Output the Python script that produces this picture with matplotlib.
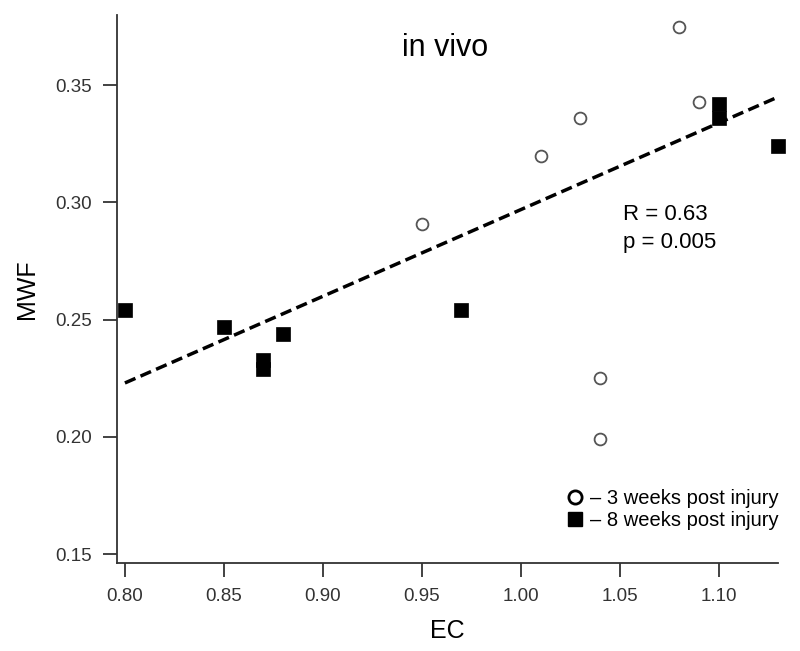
import matplotlib
matplotlib.use("Agg")
import matplotlib.pyplot as plt
from matplotlib.lines import Line2D

plt.rcParams['font.family'] = ['Liberation Sans', 'DejaVu Sans']

# 3 weeks post injury (open circles)
ec_3wk = [1.08, 1.09, 1.03, 1.01, 0.95, 1.04, 1.04]
mwf_3wk = [0.375, 0.343, 0.336, 0.320, 0.291, 0.225, 0.199]

# 8 weeks post injury (filled squares)
ec_8wk = [0.80, 0.85, 0.87, 0.87, 0.88, 0.97, 1.10, 1.10, 1.13]
mwf_8wk = [0.254, 0.247, 0.233, 0.229, 0.244, 0.254, 0.342, 0.336, 0.324]

# regression line as drawn
fit_x = [0.80, 1.13]
fit_y = [0.223, 0.345]

xticks = [0.80, 0.85, 0.90, 0.95, 1.00, 1.05, 1.10]
yticks = [0.15, 0.20, 0.25, 0.30, 0.35]

fig = plt.figure(figsize=(8, 6.51), dpi=100)
ax = fig.add_axes([0.14625, 0.1352, 0.82625, 0.8418])

ax.plot(fit_x, fit_y, color='black', lw=2.5, ls=(0, (3.3, 1.6)), zorder=2)
ax.plot(ec_3wk, mwf_3wk, 'o', ms=8.5, mfc='white', mec='#555555', mew=1.3,
        zorder=3, clip_on=False)
ax.plot(ec_8wk, mwf_8wk, 's', ms=9.5, mfc='black', mec='black', mew=0.5,
        zorder=3, clip_on=False)

ax.set_xlim(0.796, 1.13)
ax.set_ylim(0.1462, 0.380)
ax.set_xticks(xticks)
ax.set_xticklabels([f"{v:.2f}" for v in xticks])
ax.set_yticks(yticks)
ax.set_yticklabels([f"{v:.2f}" for v in yticks])

for s in ['top', 'right']:
    ax.spines[s].set_visible(False)
for s in ['left', 'bottom']:
    ax.spines[s].set_color('#333333')
    ax.spines[s].set_linewidth(1.3)
ax.tick_params(direction='out', length=10, width=1.3, color='#333333',
               labelsize=13.5, labelcolor='#333333', pad=8)

ax.set_xlabel('EC', fontsize=18, labelpad=10)
ax.set_ylabel('MWF', fontsize=18, labelpad=12)

ax.text(0.962, 0.366, 'in vivo', fontsize=22, ha='center', va='center')
ax.text(1.0515, 0.2925, 'R = 0.63', fontsize=16, ha='left', va='baseline')
ax.text(1.0515, 0.2805, 'p = 0.005', fontsize=16, ha='left', va='baseline')

handles = [
    Line2D([], [], marker='o', ls='none', ms=9.5, mfc='white', mec='black', mew=2),
    Line2D([], [], marker='s', ls='none', ms=9.5, mfc='black', mec='black'),
]
ax.legend(handles, ['\u2013 3 weeks post injury', '\u2013 8 weeks post injury'],
          loc='lower right', bbox_to_anchor=(1.016, 0.042), frameon=False,
          fontsize=14.5, handletextpad=0.25, handlelength=1.0,
          labelspacing=0.15, borderpad=0)

fig.savefig('out.png', dpi=100)
